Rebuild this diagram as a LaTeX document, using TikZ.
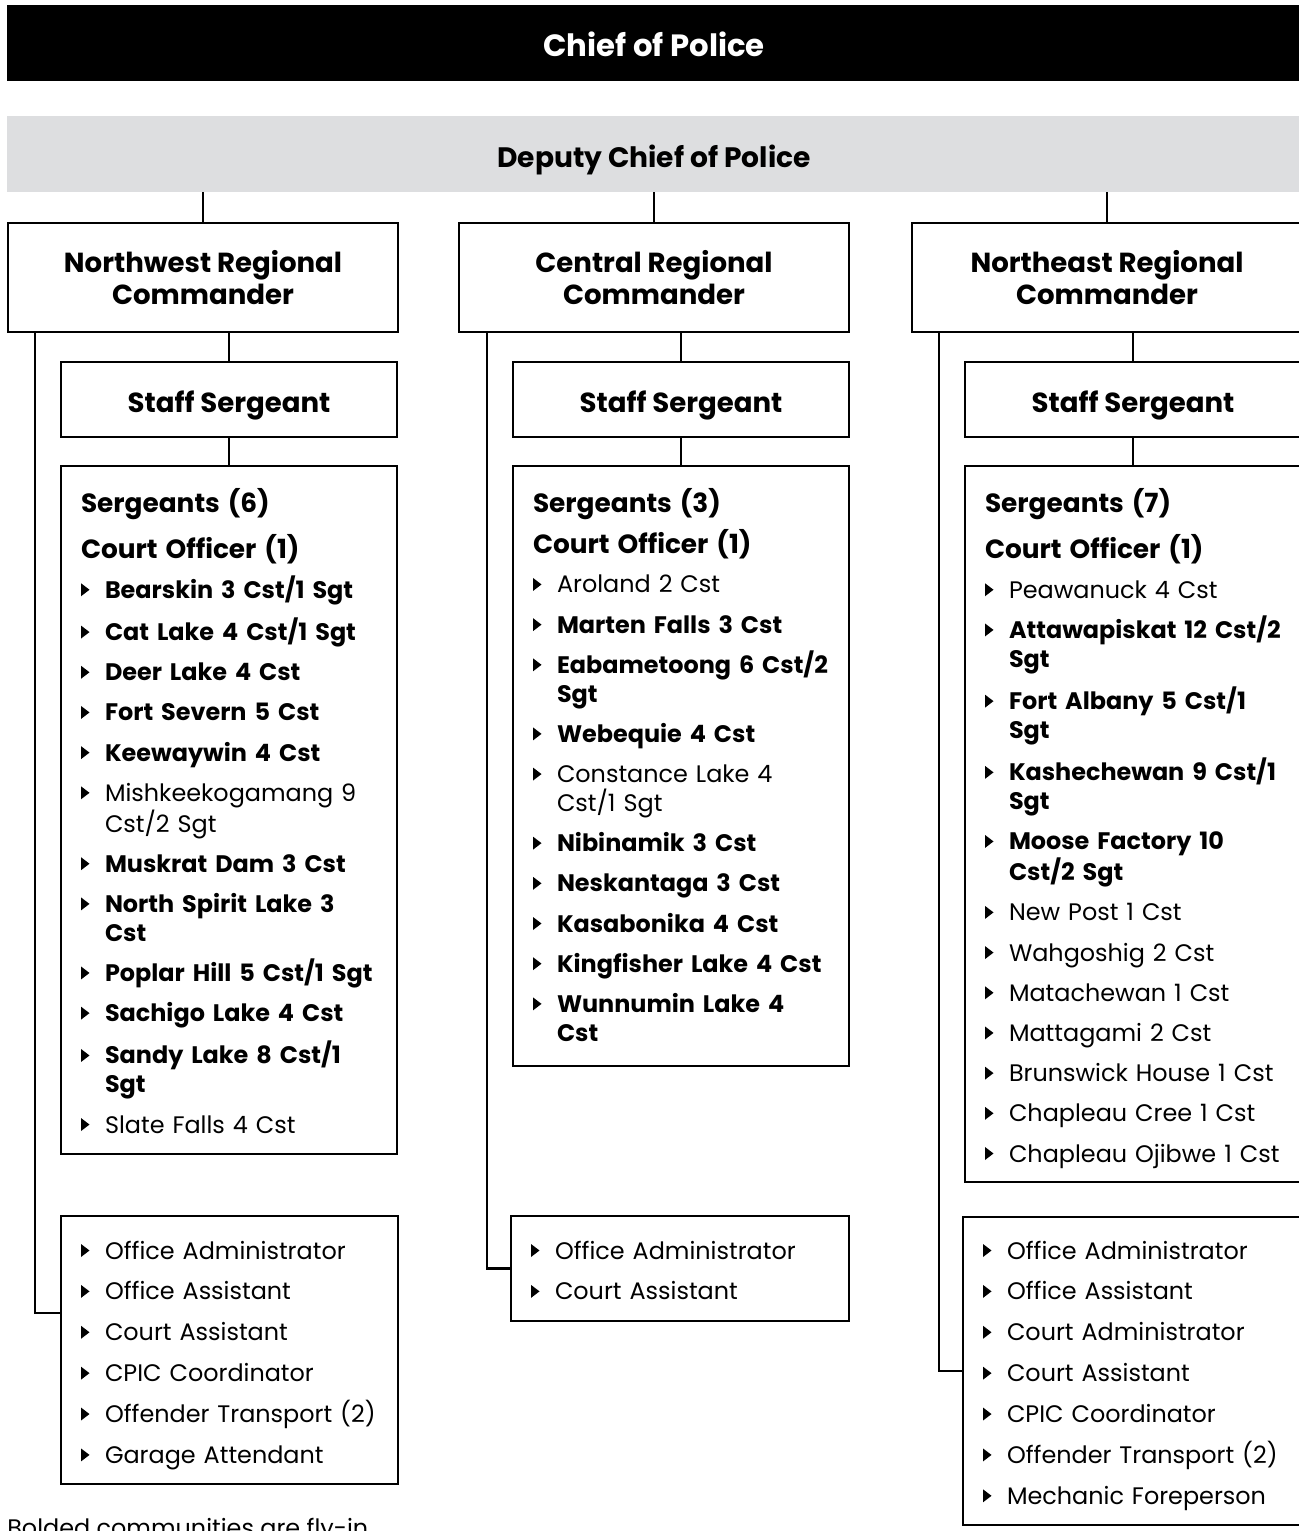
\documentclass[tikz,border=0pt]{standalone}
\usepackage{fontspec}
\setmainfont{Poppins}
\usetikzlibrary{calc}
\definecolor{deputygray}{RGB}{221,222,224}
\newlength{\pxu}\setlength{\pxu}{0.02cm}
\newlength{\itemgap}\setlength{\itemgap}{11.3\pxu}
\newlength{\staffgap}\setlength{\staffgap}{12\pxu}
\newcommand{\headfont}{\fontsize{15.7pt}{18.4pt}\selectfont\bfseries}
\newcommand{\listfont}{\fontsize{13.6pt}{16.44pt}\selectfont}
\newcommand{\tri}{\tikz[baseline=0pt]\fill (0,2\pxu) -- (0,15\pxu) -- (8.5\pxu,8.5\pxu) -- cycle;}
\newcommand{\bul}{\makebox[24\pxu][l]{\tri}}
\newcommand{\ind}{\hspace*{24\pxu}}
\newcommand{\grp}[1]{{\fontsize{15pt}{16.44pt}\selectfont\bfseries #1}}

\begin{document}
\begin{tikzpicture}[
        x=0.02cm, y=-0.02cm,
        bar/.style={anchor=north west, inner sep=0, outer sep=0, minimum width=1294\pxu, minimum height=76\pxu, text height=26.6\pxu, text depth=0pt},
        box/.style={draw, line width=1.5pt, fill=white, anchor=north west, inner sep=0, outer sep=0, align=center, font=\headfont},
        cmdbox/.style={box, minimum width=390\pxu, minimum height=109\pxu},
        staffbox/.style={box, minimum width=336\pxu, minimum height=75\pxu, text height=26.4\pxu, text depth=0pt},
        list/.style={anchor=base west, inner sep=0, outer sep=0, text width=300\pxu, align=left, font=\listfont},
        link/.style={line width=1.2pt}
    ]
        \useasboundingbox (0,0) rectangle (1298,1531);

        % top of the chart
        \node[bar, fill=black, text=white, font=\fontsize{17.5pt}{20pt}\selectfont\bfseries] (chief) at (7,5) {Chief of Police};
        \node[bar, fill=deputygray, font=\fontsize{16pt}{20pt}\selectfont\bfseries, text height=26.8\pxu] (deputy) at (7,116) {Deputy Chief of Police};

        % regional commanders
        \node[cmdbox] (nwcmd) at (8,223) {Northwest Regional\\Commander};
        \node[cmdbox] (cecmd) at (459,223) {Central Regional\\Commander};
        \node[cmdbox] (necmd) at (912,223) {Northeast Regional\\Commander};

        % staff sergeants
        \node[staffbox] (nwstaff) at (61,362) {Staff Sergeant};
        \node[staffbox] (cestaff) at (513,362) {Staff Sergeant};
        \node[staffbox] (nestaff) at (965,362) {Staff Sergeant};

        % sergeant boxes
        \node[box, minimum width=336\pxu, minimum height=688\pxu] (nwsgt) at (61,466) {};
        \node[box, minimum width=336\pxu, minimum height=600\pxu] (cesgt) at (513,466) {};
        \node[box, minimum width=337\pxu, minimum height=716\pxu] (nesgt) at (965,466) {};

        % support staff boxes
        \node[box, minimum width=337\pxu, minimum height=268\pxu] (nwadmin) at (61,1216) {};
        \node[box, minimum width=338\pxu, minimum height=105\pxu] (ceadmin) at (511,1216) {};
        \node[box, minimum width=339\pxu, minimum height=308\pxu] (neadmin) at (963,1217) {};

        % lists
        \node[list] (nwlist) at ($(nwsgt.north west)+(20,46)$) {%
            \grp{Sergeants (6)}\\[13\pxu]
            \grp{Court Officer (1)}\\[\itemgap]
            \bul\textbf{Bearskin 3 Cst/1 Sgt}\\[\itemgap]
            \bul\textbf{Cat Lake 4 Cst/1 Sgt}\\[\itemgap]
            \bul\textbf{Deer Lake 4 Cst}\\[\itemgap]
            \bul\textbf{Fort Severn 5 Cst}\\[\itemgap]
            \bul\textbf{Keewaywin 4 Cst}\\[\itemgap]
            \bul Mishkeekogamang 9\\\ind Cst/2 Sgt\\[\itemgap]
            \bul\textbf{Muskrat Dam 3 Cst}\\[\itemgap]
            \bul\textbf{North Spirit Lake 3}\\\ind\textbf{Cst}\\[\itemgap]
            \bul\textbf{Poplar Hill 5 Cst/1 Sgt}\\[\itemgap]
            \bul\textbf{Sachigo Lake 4 Cst}\\[\itemgap]
            \bul\textbf{Sandy Lake 8 Cst/1}\\\ind\textbf{Sgt}\\[\itemgap]
            \bul Slate Falls 4 Cst};
        \node[list] (celist) at ($(cesgt.north west)+(20,46)$) {%
            \grp{Sergeants (3)}\\[8\pxu]
            \grp{Court Officer (1)}\\[11\pxu]
            \bul Aroland 2 Cst\\[\itemgap]
            \bul\textbf{Marten Falls 3 Cst}\\[\itemgap]
            \bul\textbf{Eabametoong 6 Cst/2}\\\ind\textbf{Sgt}\\[\itemgap]
            \bul\textbf{Webequie 4 Cst}\\[\itemgap]
            \bul Constance Lake 4\\\ind Cst/1 Sgt\\[\itemgap]
            \bul\textbf{Nibinamik 3 Cst}\\[\itemgap]
            \bul\textbf{Neskantaga 3 Cst}\\[\itemgap]
            \bul\textbf{Kasabonika 4 Cst}\\[\itemgap]
            \bul\textbf{Kingfisher Lake 4 Cst}\\[\itemgap]
            \bul\textbf{Wunnumin Lake 4}\\\ind\textbf{Cst}};
        \node[list] (nelist) at ($(nesgt.north west)+(20,46)$) {%
            \grp{Sergeants (7)}\\[13\pxu]
            \grp{Court Officer (1)}\\[\itemgap]
            \bul Peawanuck 4 Cst\\[\itemgap]
            \bul\textbf{Attawapiskat 12 Cst/2}\\\ind\textbf{Sgt}\\[\itemgap]
            \bul\textbf{Fort Albany 5 Cst/1}\\\ind\textbf{Sgt}\\[\itemgap]
            \bul\textbf{Kashechewan 9 Cst/1}\\\ind\textbf{Sgt}\\[\itemgap]
            \bul\textbf{Moose Factory 10}\\\ind\textbf{Cst/2 Sgt}\\[\itemgap]
            \bul New Post 1 Cst\\[\itemgap]
            \bul Wahgoshig 2 Cst\\[\itemgap]
            \bul Matachewan 1 Cst\\[\itemgap]
            \bul Mattagami 2 Cst\\[\itemgap]
            \bul Brunswick House 1 Cst\\[\itemgap]
            \bul Chapleau Cree 1 Cst\\[\itemgap]
            \bul Chapleau Ojibwe 1 Cst};

        \node[list] (nwstafflist) at ($(nwadmin.north west)+(20,43)$) {%
            \bul Office Administrator\\[\staffgap]
            \bul Office Assistant\\[\staffgap]
            \bul Court Assistant\\[\staffgap]
            \bul CPIC Coordinator\\[\staffgap]
            \bul Offender Transport (2)\\[\staffgap]
            \bul Garage Attendant};
        \node[list] (cestafflist) at ($(ceadmin.north west)+(20,43)$) {%
            \bul Office Administrator\\[\staffgap]
            \bul Court Assistant};
        \node[list] (nestafflist) at ($(neadmin.north west)+(20,42)$) {%
            \bul Office Administrator\\[\staffgap]
            \bul Office Assistant\\[\staffgap]
            \bul Court Administrator\\[\staffgap]
            \bul Court Assistant\\[\staffgap]
            \bul CPIC Coordinator\\[\staffgap]
            \bul Offender Transport (2)\\[\staffgap]
            \bul Mechanic Foreperson};

        % connectors
        \foreach \r in {nw, ce, ne} {
            \draw[link] (\r cmd.north) -- (\r cmd.north |- deputy.south);
            \draw[link] (\r staff.north) -- (\r staff.north |- \r cmd.south);
            \draw[link] (\r staff.south) -- (\r staff.south |- \r sgt.north);
        }
        \draw[link] ($(nwcmd.south west)+(27,0)$) |- ($(nwadmin.north west)+(0,97)$);
        \draw[link] ($(cecmd.south west)+(28,0)$) |- (ceadmin.west);
        \draw[link] ($(necmd.south west)+(27,0)$) |- (neadmin.west);

        \node[anchor=base west, inner sep=0, font=\listfont] (note) at (7,1536) {Bolded communities are fly-in};
    \end{tikzpicture}
\end{document}
